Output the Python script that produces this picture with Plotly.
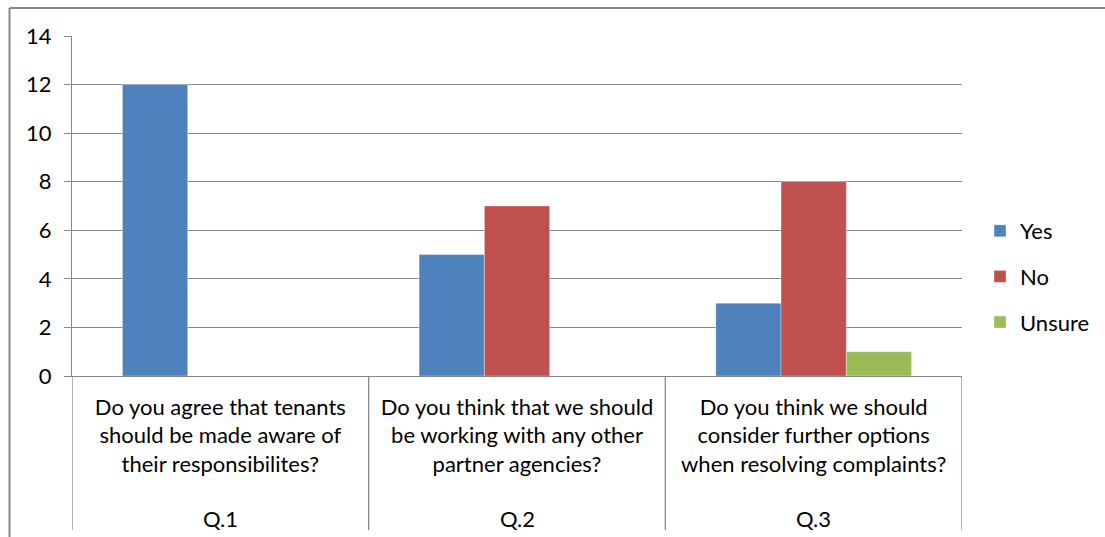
import plotly.graph_objects as go

questions = [
    "Do you agree that tenants<br>should be made aware of<br>their responsibilites?",
    "Do you think that we should<br>be working with any other<br>partner agencies?",
    "Do you think we should<br>consider further options<br>when resolving complaints?",
]
q_labels = ["Q.1", "Q.2", "Q.3"]
yes = [12, 5, 3]
no = [None, 7, 8]
unsure = [None, None, 1]
series = [("Yes", yes, "#4F81BD"), ("No", no, "#C0504D"), ("Unsure", unsure, "#9BBB59")]

W, H = 1105, 537
L, R, T, B = 72, 962, 36, 376
pw, ph = R - L, B - T

def px_x(p):
    return (p - L) / pw

def px_y(p):
    return (B - p) / ph

FONT = "Lato"
FS = 22
GRID = "#898989"
xs = list(range(len(questions)))

fig = go.Figure()
for i, (name, vals, col) in enumerate(series):
    fig.add_trace(go.Bar(
        x=xs, y=vals, name=name, legendgroup=name,
        marker=dict(color=col, line=dict(color="rgba(255,255,255,0.35)", width=1)),
    ))

shapes = []
# category dividers
for k in range(len(questions) + 1):
    shapes.append(dict(type="line", xref="x", yref="paper", x0=k - 0.5, x1=k - 0.5,
                       y0=0, y1=px_y(530), line=dict(color=GRID, width=1.3)))
# outer frame (left and top)
shapes.append(dict(type="line", xref="paper", yref="paper", x0=px_x(9.5), x1=px_x(9.5),
                   y0=px_y(540), y1=px_y(8), line=dict(color="#888888", width=2)))
shapes.append(dict(type="line", xref="paper", yref="paper", x0=px_x(9.5), x1=px_x(1110),
                   y0=px_y(8), y1=px_y(8), line=dict(color="#888888", width=2)))

annotations = []
for k, q in enumerate(q_labels):
    annotations.append(dict(x=k, y=px_y(518), xref="x", yref="paper", text=q,
                            showarrow=False, font=dict(family=FONT, size=FS, color="#000"),
                            xanchor="center", yanchor="middle"))

fig.update_layout(
    width=W, height=H, autosize=False,
    margin=dict(l=L, r=W - R, t=T, b=H - B, pad=0, autoexpand=False),
    paper_bgcolor="white", plot_bgcolor="white",
    barmode="group", bargap=0.34, bargroupgap=0,
    font=dict(family=FONT, size=FS, color="#000"),
    showlegend=True,
    legend=dict(x=px_x(980), y=px_y(210), xanchor="left", yanchor="top",
                tracegroupgap=14, font=dict(family=FONT, size=FS),
                itemwidth=30, bgcolor="rgba(0,0,0,0)"),
    shapes=shapes, annotations=annotations,
)
fig.update_xaxes(range=[-0.5, len(questions) - 0.5], tickvals=xs, ticktext=questions,
                 showgrid=False, zeroline=False, showline=True, linecolor=GRID, linewidth=1.3,
                 ticks="", ticklabelstandoff=11, tickfont=dict(family=FONT, size=FS),
                 fixedrange=True)
fig.update_yaxes(range=[0, 14], dtick=2, showgrid=True, gridcolor=GRID, gridwidth=1.3,
                 zeroline=False, showline=True, linecolor=GRID, linewidth=1.3,
                 ticks="outside", ticklen=7, tickcolor=GRID, tickwidth=1.3,
                 tickfont=dict(family=FONT, size=FS), ticklabelstandoff=8)

fig.write_html(
    "out.html",
    config={"displayModeBar": False, "responsive": False},
    post_script="document.body.style.margin='0';document.body.style.overflow='hidden';",
)
